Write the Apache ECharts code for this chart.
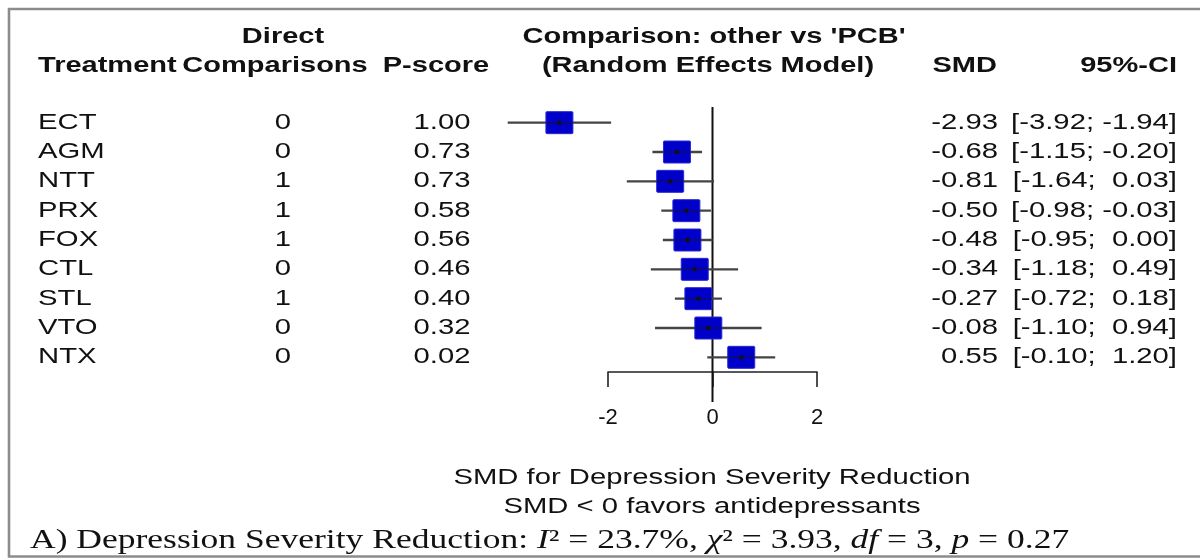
<!DOCTYPE html>
<html>
<head>
<meta charset="utf-8">
<script src="https://cdn.jsdelivr.net/npm/echarts@6/dist/echarts.min.js"></script>
<style>
html,body{margin:0;padding:0;background:#fff;}
#chart{width:1200px;height:560px;}
</style>
</head>
<body>
<div id="chart"></div>
<script>
// ---------- data ----------
const treatments = ['ECT', 'AGM', 'NTT', 'PRX', 'FOX', 'CTL', 'STL', 'VTO', 'NTX'];
const directComparisons = [0, 0, 1, 1, 1, 0, 1, 0, 0];
const pScores = [1.00, 0.73, 0.73, 0.58, 0.56, 0.46, 0.40, 0.32, 0.02];
const smd = [-2.93, -0.68, -0.81, -0.50, -0.48, -0.34, -0.27, -0.08, 0.55];
const ciLower = [-3.92, -1.15, -1.64, -0.98, -0.95, -1.18, -0.72, -1.10, -0.10];
const ciUpper = [-1.94, -0.20, 0.03, -0.03, 0.00, 0.49, 0.18, 0.94, 1.20];
const xTicks = [-2, 0, 2];
const headerLine1 = ['Direct', "Comparison: other vs 'PCB'"];
const headerLine2 = ['Treatment', 'Comparisons', 'P-score', '(Random Effects Model)', 'SMD', '95%-CI'];
const xAxisTitle = ['SMD for Depression Severity Reduction', 'SMD < 0 favors antidepressants'];
const panelLabel = 'A) Depression Severity Reduction: ';
const heterogeneity = { I2: '23.7%', chi2: '3.93', df: '3', p: '0.27' };

// ---------- styling ----------
const SANS = '"Liberation Sans", Arial, Helvetica, sans-serif';
const SERIF = '"Liberation Serif", "Times New Roman", serif';
const FS = 22, SX = 1.33;          // body text (original picture is stretched horizontally)
const FSB = 21.5, SXB = 1.35;      // bold headers
const TXT = '#111111';

function f2(v) { return v.toFixed(2); }
function ciText(i) {
  const hi = ciUpper[i];
  return '[' + f2(ciLower[i]) + '; ' + (hi >= 0 ? ' ' : '') + f2(hi) + ']';
}

function txt(x, y, text, align, bold) {
  return {
    type: 'text', x: x, y: y, scaleX: bold ? SXB : SX, silent: true,
    style: {
      text: text, fontSize: bold ? FSB : FS, fontFamily: SANS, fontWeight: bold ? 'bold' : 'normal',
      fill: TXT, textAlign: align, align: align,
      textVerticalAlign: 'middle', verticalAlign: 'middle'
    }
  };
}

const rows = treatments.map((t, i) => [smd[i], i, ciLower[i], ciUpper[i]]);

const chart = echarts.init(document.getElementById('chart'), null, { renderer: 'canvas' });

const option = {
  animation: false,
  backgroundColor: '#ffffff',
  grid: { left: 608, top: 108, width: 209, height: 264, containLabel: false },
  xAxis: {
    type: 'value', min: -2, max: 2, interval: 2,
    axisLine: { show: true, lineStyle: { color: '#222', width: 1.6 } },
    axisTick: { show: true, inside: false, length: 15, lineStyle: { color: '#222', width: 1.6 } },
    axisLabel: {
      margin: 35, fontSize: 22, fontFamily: SANS, color: TXT,
      customValues: xTicks
    },
    splitLine: { show: false }
  },
  yAxis: {
    type: 'category', data: treatments, inverse: true,
    axisLine: { show: false }, axisTick: { show: false }, axisLabel: { show: false },
    splitLine: { show: false }
  },
  series: [
    {
      // vertical line of no effect
      name: 'zero', type: 'custom', silent: true, clip: false, z: 2,
      data: [[0, 0]],
      encode: { x: 0, y: 1 },
      renderItem: function (params, api) {
        const p = api.coord([api.value(0), api.value(1)]);
        const cs = params.coordSys;
        return {
          type: 'line',
          shape: { x1: p[0], y1: cs.y - 1, x2: p[0], y2: cs.y + cs.height + 30 },
          style: { stroke: '#111', lineWidth: 2 }
        };
      }
    },
    {
      // confidence intervals and effect boxes
      name: 'forest', type: 'custom', silent: true, clip: false, z: 3,
      data: rows,
      encode: { x: [0, 2, 3], y: 1 },
      renderItem: function (params, api) {
        const y = api.value(1);
        const c = api.coord([api.value(0), y]);
        const l = api.coord([api.value(2), y]);
        const h = api.coord([api.value(3), y]);
        const w = 27, hh = 22;
        return {
          type: 'group',
          children: [
            { type: 'line', shape: { x1: l[0], y1: l[1], x2: h[0], y2: h[1] },
              style: { stroke: '#444', lineWidth: 2.4 } },
            { type: 'rect', shape: { x: c[0] - w / 2, y: c[1] - hh / 2, width: w, height: hh, r: 1 },
              style: { fill: '#0000c8', stroke: '#2a2ad8', lineWidth: 1 } },
            { type: 'line', shape: { x1: Math.max(l[0], c[0] - w / 2), y1: c[1], x2: Math.min(h[0], c[0] + w / 2), y2: c[1] },
              style: { stroke: '#10104a', lineWidth: 1.3, opacity: 0.85 } },
            { type: 'circle', shape: { cx: c[0], cy: c[1], r: 2.2 }, style: { fill: '#111' } }
          ]
        };
      }
    },
    {
      // table columns on each row
      name: 'table', type: 'custom', silent: true, clip: false, z: 4,
      data: rows,
      encode: { x: 0, y: 1 },
      renderItem: function (params, api) {
        const i = api.value(1);
        const yy = api.coord([0, i])[1];
        return {
          type: 'group',
          children: [
            txt(38, yy, treatments[i], 'left'),
            txt(283, yy, String(directComparisons[i]), 'center'),
            txt(442, yy, f2(pScores[i]), 'center'),
            txt(998, yy, f2(smd[i]), 'right'),
            txt(1177, yy, ciText(i), 'right')
          ]
        };
      }
    }
  ],
  graphic: [
    // frame
    { type: 'polyline', silent: true,
      shape: { points: [[1200, 9], [9, 9], [9, 556.5], [1200, 556.5]] },
      style: { stroke: '#8c8c8c', lineWidth: 2.6, fill: null } },
    // headers
    txt(283, 37, headerLine1[0], 'center', true),
    txt(714, 37, headerLine1[1], 'center', true),
    txt(38, 66, headerLine2[0], 'left', true),
    txt(275, 66, headerLine2[1], 'center', true),
    txt(436, 66, headerLine2[2], 'center', true),
    txt(708, 66, headerLine2[3], 'center', true),
    txt(997, 66, headerLine2[4], 'right', true),
    txt(1177, 66, headerLine2[5], 'right', true),
    // x axis title
    txt(712, 478, xAxisTitle[0], 'center'),
    txt(712, 507, xAxisTitle[1], 'center'),
    // panel caption with heterogeneity statistics
    {
      type: 'text', x: 30, y: 541, scaleX: 1.34, silent: true,
      style: {
        text: '{n|' + panelLabel + '}{i|I}{n|\u00B2 = ' + heterogeneity.I2 + ', }{i|\u03C7}{n|\u00B2 = ' +
              heterogeneity.chi2 + ', }{i|df}{n| = ' + heterogeneity.df + ', }{i|p}{n| = ' + heterogeneity.p + '}',
        textAlign: 'left', align: 'left', textVerticalAlign: 'middle', verticalAlign: 'middle',
        fontSize: 26.5, fontFamily: SERIF, fill: '#111',
        rich: {
          n: { fontSize: 26.5, fontFamily: SERIF, fontStyle: 'normal', fill: '#111' },
          i: { fontSize: 26.5, fontFamily: SERIF, fontStyle: 'italic', fill: '#111' }
        }
      }
    }
  ]
};

chart.setOption(option);
</script>
</body>
</html>
